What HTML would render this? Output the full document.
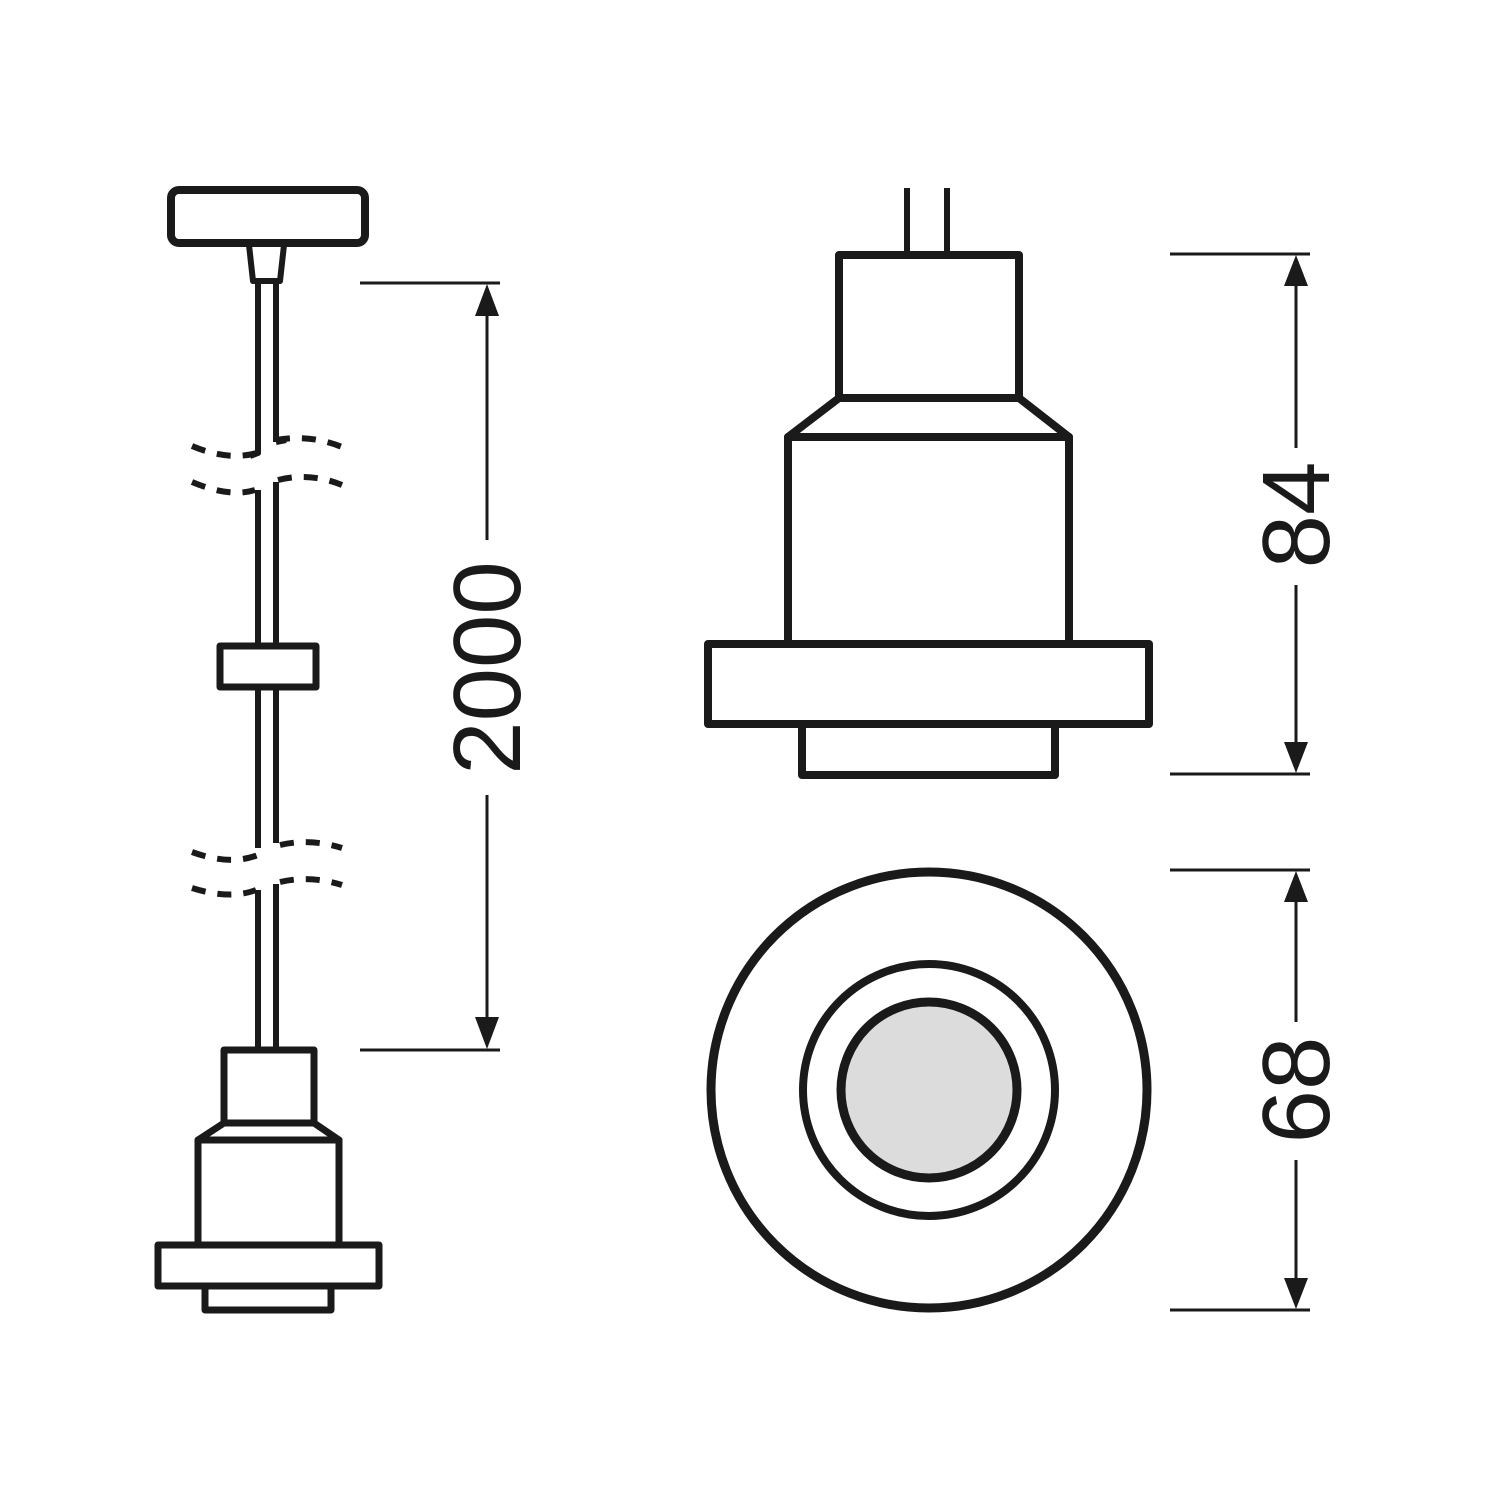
<!DOCTYPE html>
<html><head><meta charset="utf-8"><style>
html,body{margin:0;padding:0;background:#fff;overflow:hidden;}
svg{display:block;}
text{font-family:"Liberation Sans",sans-serif;fill:#1a1a1a;}
</style></head><body>
<svg width="1500" height="1500" viewBox="0 0 1500 1500" xmlns="http://www.w3.org/2000/svg">
<g fill="none" stroke="#1a1a1a" stroke-width="8" stroke-linejoin="round">
<rect x="171" y="190" width="194" height="53" rx="8"/>
<path d="M249 245 L253 281 L280 281 L284 245" stroke-width="6"/>
<line x1="258" y1="283" x2="258" y2="448" stroke-width="6"/>
<line x1="276" y1="283" x2="276" y2="442" stroke-width="6"/>
<path d="M258 448 L258 453 L250 456" stroke-width="6"/>
<path d="M276 442 L286 440" stroke-width="6"/>
<path d="M192 446 Q230 462 260 452 M276 440 Q310 434 342 447" stroke-width="6" stroke-dasharray="14 12"/>
<path d="M192 482 Q230 498 255 490 M278 480 Q310 472 342 485" stroke-width="6" stroke-dasharray="14 12"/>
<line x1="258" y1="490" x2="258" y2="646" stroke-width="6"/>
<line x1="276" y1="482" x2="276" y2="646" stroke-width="6"/>
<rect x="220" y="646" width="96" height="41" stroke-width="7"/>
<line x1="258" y1="688" x2="258" y2="848" stroke-width="6"/>
<line x1="276" y1="688" x2="276" y2="843" stroke-width="6"/>
<path d="M192 852 Q230 866 258 855 M280 845 Q310 838 342 848" stroke-width="6" stroke-dasharray="14 12"/>
<path d="M192 888 Q230 900 256 890 M280 882 Q310 875 342 885" stroke-width="6" stroke-dasharray="14 12"/>
<line x1="258" y1="890" x2="258" y2="1049" stroke-width="6"/>
<line x1="276" y1="884" x2="276" y2="1049" stroke-width="6"/>
<rect x="224" y="1050" width="90" height="73" stroke-width="7"/>
<path d="M224 1123 L198 1140 L339 1140 L314 1123" stroke-width="7"/>
<rect x="198" y="1140" width="141" height="105" stroke-width="7"/>
<rect x="158" y="1245" width="221" height="41" stroke-width="7"/>
<rect x="205" y="1286" width="126" height="24" stroke-width="7"/>
<line x1="907" y1="188" x2="907" y2="253" stroke-width="6"/>
<line x1="947" y1="188" x2="947" y2="253" stroke-width="6"/>
<rect x="839" y="255" width="180" height="143" stroke-width="8"/>
<path d="M839 398 L788 437 L1069 437 L1019 398"/>
<rect x="788" y="437" width="281" height="207"/>
<rect x="708" y="644" width="441" height="80"/>
<rect x="802" y="724" width="253" height="51"/>
<circle cx="929" cy="1090" r="218" stroke-width="9"/>
<circle cx="929" cy="1090" r="126" stroke-width="8"/>
<circle cx="929" cy="1090" r="88" stroke-width="9" fill="#dcdcdc"/>
</g>
<g stroke="#1a1a1a" stroke-width="3" fill="none">
<line x1="360" y1="283" x2="500" y2="283"/>
<line x1="360" y1="1050" x2="500" y2="1050"/>
<line x1="487" y1="300" x2="487" y2="540"/>
<line x1="487" y1="795" x2="487" y2="1035"/>
<line x1="1170" y1="254" x2="1310" y2="254"/>
<line x1="1170" y1="774" x2="1310" y2="774"/>
<line x1="1296" y1="270" x2="1296" y2="448"/>
<line x1="1296" y1="585" x2="1296" y2="760"/>
<line x1="1170" y1="870" x2="1310" y2="870"/>
<line x1="1170" y1="1310" x2="1310" y2="1310"/>
<line x1="1296" y1="885" x2="1296" y2="1022"/>
<line x1="1296" y1="1160" x2="1296" y2="1295"/>
</g>
<g fill="#1a1a1a">
<polygon points="487,284 475,316 499,316"/>
<polygon points="487,1049 475,1017 499,1017"/>
<polygon points="1296,255 1284,286 1308,286"/>
<polygon points="1296,773 1284,742 1308,742"/>
<polygon points="1296,871 1284,902 1308,902"/>
<polygon points="1296,1309 1284,1278 1308,1278"/>
</g>
<text x="0" y="0" font-size="96" text-anchor="middle" transform="translate(520 668) rotate(-90)">2000</text>
<text x="0" y="0" font-size="96" text-anchor="middle" transform="translate(1329 515) rotate(-90)">84</text>
<text x="0" y="0" font-size="96" text-anchor="middle" transform="translate(1329 1090) rotate(-90)">68</text>
</svg>
</body></html>
